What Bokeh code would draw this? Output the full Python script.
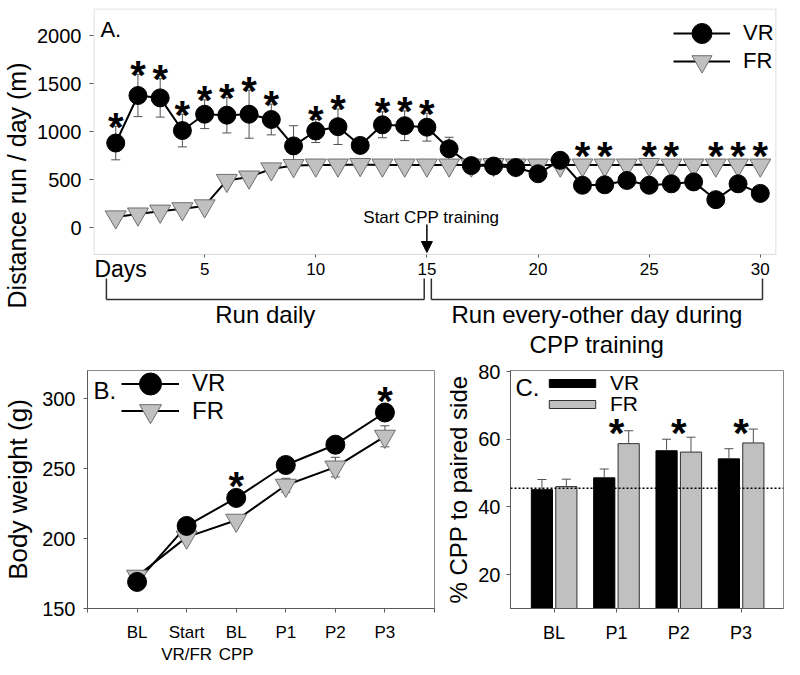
from bokeh.plotting import figure
from bokeh.models import (Range1d, FixedTicker, Label, Arrow, NormalHead, Legend, LegendItem,
                          Span, LinearAxis, BoxAnnotation)
from bokeh.layouts import column, row
from bokeh.embed import file_html
from bokeh.resources import INLINE
from bokeh.core.properties import value

FONT = "Liberation Sans"
GRAY_FILL = "#c0c0c0"
GRAY_EDGE = "#6e6e6e"
FRAME = "#8a8a8a"
AXC = "#5a5a5a"
ERR = "#505050"

# ---------------- Panel A data ----------------
days = list(range(1, 31))
vr_dist = [880, 1375, 1350, 1010, 1180, 1170, 1180, 1125, 850, 1005,
           1050, 855, 1070, 1060, 1045, 820, 645, 640, 625, 560,
           700, 440, 445, 490, 440, 455, 475, 290, 455, 355]
vr_dist_err = [175, 220, 200, 170, 150, 185, 250, 160, 210, 120,
               185, 70, 135, 155, 145, 120, 50, 50, 50, 50,
               50, 50, 50, 50, 50, 50, 50, 50, 50, 50]
fr_dist = [110, 140, 170, 195, 225, 490, 525, 610, 645, 650,
           650, 655, 650, 650, 650, 650, 650, 655, 650, 650,
           650, 650, 650, 650, 655, 650, 650, 650, 650, 650]
fr_dist_err = [30, 30, 30, 30, 30, 40, 40, 40, 40, 40,
               40, 40, 40, 40, 40, 40, 40, 40, 40, 40,
               40, 40, 40, 40, 40, 40, 40, 40, 40, 40]
star_days_vr = [1, 2, 3, 4, 5, 6, 7, 8, 10, 11, 13, 14, 15]
star_days_fr = [22, 23, 25, 26, 28, 29, 30]
day_ticks = [5, 10, 15, 20, 25, 30]
dist_ticks = [0, 500, 1000, 1500, 2000]
cpp_start_day = 15
phase_daily = (0.58, 14.88)
phase_eod = (15.2, 30.1)

# ---------------- Panel B data ----------------
bw_pos = [0, 1, 2, 3, 4, 5]
bw_labels = ["BL", "Start\nVR/FR", "BL\nCPP", "P1", "P2", "P3"]
vr_bw = [169, 209, 229, 252.5, 267, 290]
vr_bw_err = [2, 2, 3, 3, 3, 3]
fr_bw = [173, 201, 213, 238, 251, 273]
fr_bw_err = [2, 2, 3, 5, 7, 7.5]
star_pos_b = [2, 5]
bw_ticks = [150, 200, 250, 300]

# ---------------- Panel C data ----------------
cpp_pos = [0, 1, 2, 3]
cpp_labels = ["BL", "P1", "P2", "P3"]
vr_cpp = [45.1, 48.6, 56.6, 54.2]
vr_cpp_err = [3.0, 2.6, 3.4, 3.0]
fr_cpp = [46.0, 58.7, 56.2, 58.9]
fr_cpp_err = [2.2, 3.8, 4.4, 4.1]
cpp_baseline = 45.5
star_pos_c = [1, 2, 3]
star_level_c = 64.5
cpp_ticks = [20, 40, 60, 80]

STAR_FS = 40
STAR_SHIFT = 9  # px: asterisk ink centre sits above the 'middle' anchor


def style(p, tick_fs, label_fs):
    p.xgrid.visible = False
    p.ygrid.visible = False
    p.outline_line_color = FRAME
    p.outline_line_width = 1
    p.background_fill_color = "white"
    p.border_fill_color = "white"
    for ax in p.axis:
        ax.axis_line_color = AXC
        ax.major_tick_line_color = AXC
        ax.minor_tick_line_color = None
        ax.major_tick_in = 0
        ax.major_tick_out = 4
        ax.major_label_text_font = FONT
        ax.major_label_text_font_size = tick_fs
        ax.major_label_text_color = "black"
        ax.axis_label_text_font = FONT
        ax.axis_label_text_font_style = "normal"
        ax.axis_label_text_font_size = label_fs
        ax.axis_label_text_color = "black"


def single_legend(label, renderers, x, y, gw, gh, standoff, fs):
    return Legend(items=[LegendItem(label=label, renderers=renderers)],
                  location=(x, y), glyph_width=gw, glyph_height=gh, label_width=50,
                  label_standoff=standoff, label_text_font=FONT, label_text_font_size=fs,
                  label_text_color="black", padding=0, margin=0, spacing=0,
                  border_line_color=None, background_fill_alpha=0)


# ======================= Panel A =======================
# frame spans page rows 8..362; value 0 sits at row 227, 500 units per 48 px
upp_a = 500 / 48
A_Y0 = (227 - 362) * upp_a
A_Y1 = (227 - 8) * upp_a
A_X0, A_X1 = 0, 30.73
dpp_a = (A_X1 - A_X0) / 692


def ya(px):
    return (227 - px) * upp_a


pa = figure(width=784, height=362, x_range=Range1d(A_X0, A_X1), y_range=Range1d(A_Y0, A_Y1),
            output_backend="svg", toolbar_location=None, x_axis_location=None,
            min_border_left=84, min_border_right=8, min_border_top=8, min_border_bottom=0)
xa = LinearAxis(fixed_location=ya(254), ticker=FixedTicker(ticks=day_ticks))
pa.add_layout(xa, "below")
style(pa, "20px", "25px")
pa.outline_line_color = None
xa.axis_line_color = None
xa.major_label_text_font_size = "17px"
xa.major_tick_out = 3
xa.major_label_standoff = 5
pa.yaxis.axis_line_color = None
pa.yaxis.ticker = FixedTicker(ticks=dist_ticks)
pa.yaxis.major_label_standoff = 8
pa.yaxis.axis_label = "Distance run / day (m)"
pa.yaxis.axis_label_standoff = 3
# the plot box (upper part of the frame)
pa.add_layout(BoxAnnotation(left=A_X0 + 0.5 * dpp_a, right=A_X1 - 0.5 * dpp_a,
                            bottom=ya(254), top=A_Y1 - 0.5 * upp_a,
                            fill_alpha=0, line_color=FRAME, line_width=1.2))

fr_line = pa.line(days, fr_dist, line_color="black", line_width=2)
vr_line = pa.line(days, vr_dist, line_color="black", line_width=2)
vr_lo = [v - e for v, e in zip(vr_dist, vr_dist_err)]
vr_hi = [v + e for v, e in zip(vr_dist, vr_dist_err)]
fr_lo = [v - e for v, e in zip(fr_dist, fr_dist_err)]
fr_hi = [v + e for v, e in zip(fr_dist, fr_dist_err)]
pa.segment(days, vr_lo, days, vr_hi, line_color=ERR, line_width=1)
pa.scatter(days, vr_hi, marker="dash", size=9, line_color=ERR, line_width=1)
pa.scatter(days, vr_lo, marker="dash", size=9, line_color=ERR, line_width=1)
pa.segment(days, fr_lo, days, fr_hi, line_color=ERR, line_width=1)
fr_pts = pa.scatter(days, fr_dist, marker="inverted_triangle", size=21,
                    fill_color=GRAY_FILL, line_color=GRAY_EDGE, line_width=1)
vr_pts = pa.scatter(days, vr_dist, marker="circle", size=18,
                    fill_color="black", line_color="black")

sy_vr = [vr_hi[d - 1] + (8.5 - STAR_SHIFT) * upp_a for d in star_days_vr]
sy_fr = [fr_dist[d - 1] + (18 - STAR_SHIFT) * upp_a for d in star_days_fr]
pa.text(star_days_vr + star_days_fr, sy_vr + sy_fr, text=["*"] * (len(sy_vr) + len(sy_fr)),
        text_font=value(FONT), text_font_style="bold", text_font_size=f"{STAR_FS}px",
        text_align="center", text_baseline="middle", text_color="black")

FRAME_H_A = 354
pa.add_layout(single_legend("VR", [vr_line, vr_pts], 580, FRAME_H_A - (32.7 - 8) - 25, 57, 50, 13, "22px"))
pa.add_layout(single_legend("FR", [fr_line, fr_pts], 580, FRAME_H_A - (60.7 - 8) - 25, 57, 50, 13, "22px"))

pa.add_layout(Label(x=0.31, y=ya(29), text="A.", text_font=FONT, text_font_size="22px",
                    text_color="black", text_baseline="middle", text_align="left"))
pa.add_layout(Label(x=15.2, y=ya(216.5), text="Start CPP training", text_font=FONT,
                    text_color="black", text_font_size="17px", text_align="center",
                    text_baseline="middle"))
pa.add_layout(Arrow(end=NormalHead(size=11, fill_color="black", line_color="black"),
                    x_start=cpp_start_day, y_start=ya(224), x_end=cpp_start_day, y_end=ya(252),
                    line_color="black", line_width=1.5))
pa.add_layout(Label(x=0.04, y=ya(268.5), text="Days", text_font=FONT, text_font_size="23px",
                    text_color="black", text_align="left", text_baseline="middle"))
bx0 = [phase_daily[0], phase_daily[0], phase_daily[1], phase_eod[0], phase_eod[0], phase_eod[1]]
bx1 = [phase_daily[0], phase_daily[1], phase_daily[1], phase_eod[0], phase_eod[1], phase_eod[1]]
by0 = [ya(278), ya(299), ya(299), ya(278), ya(299), ya(299)]
by1 = [ya(299), ya(299), ya(278), ya(299), ya(299), ya(278)]
pa.segment(bx0, by0, bx1, by1, line_color="#303030", line_width=1.5)
pa.text([sum(phase_daily) / 2, sum(phase_eod) / 2, sum(phase_eod) / 2],
        [ya(314), ya(313.5), ya(343.5)],
        text=["Run daily", "Run every-other day during", "CPP training"],
        text_font=value(FONT), text_font_size="24px", text_align="center",
        text_baseline="middle", text_color="black")

# ======================= Panel B =======================
B_Y0, B_Y1 = 150, 320
FRAME_H_B = 248
upp_b = (B_Y1 - B_Y0) / FRAME_H_B
pb = figure(width=442, height=305, x_range=Range1d(-1, 6), y_range=Range1d(B_Y0, B_Y1),
            output_backend="svg", toolbar_location=None,
            min_border_left=83, min_border_right=8, min_border_top=8, min_border_bottom=49)
style(pb, "20px", "26px")
pb.xaxis.ticker = FixedTicker(ticks=[-1] + bw_pos + [6])
overrides = {-1: "", 6: ""}
for pos, lab in zip(bw_pos, bw_labels):
    overrides[pos] = lab
pb.xaxis.major_label_overrides = overrides
pb.xaxis.major_label_text_font_size = "17px"
pb.xaxis.major_label_standoff = 10
pb.yaxis.ticker = FixedTicker(ticks=bw_ticks)
pb.yaxis.major_label_standoff = 8
pb.yaxis.axis_label = "Body weight (g)"
pb.yaxis.axis_label_standoff = 6

fb_line = pb.line(bw_pos, fr_bw, line_color="black", line_width=2)
vb_line = pb.line(bw_pos, vr_bw, line_color="black", line_width=2)
fb_lo = [v - e for v, e in zip(fr_bw, fr_bw_err)]
fb_hi = [v + e for v, e in zip(fr_bw, fr_bw_err)]
pb.segment(bw_pos, fb_lo, bw_pos, fb_hi, line_color=ERR, line_width=1)
pb.scatter(bw_pos, fb_hi, marker="dash", size=9, line_color=ERR, line_width=1)
pb.scatter(bw_pos, fb_lo, marker="dash", size=9, line_color=ERR, line_width=1)
fb_pts = pb.scatter(bw_pos, fr_bw, marker="inverted_triangle", size=21,
                    fill_color=GRAY_FILL, line_color=GRAY_EDGE, line_width=1)
vb_pts = pb.scatter(bw_pos, vr_bw, marker="circle", size=19, fill_color="black", line_color="black")
sy_b = [vr_bw[i] + (21 - STAR_SHIFT) * upp_b for i in star_pos_b]
pb.text(star_pos_b, sy_b, text=["*"] * len(sy_b), text_font=value(FONT), text_font_style="bold",
        text_font_size=f"{STAR_FS}px", text_align="center", text_baseline="middle")
pb.add_layout(single_legend("VR", [vb_line, vb_pts], 34, FRAME_H_B - (393.3 - 370) - 27.5, 58, 55, 13, "24px"))
pb.add_layout(single_legend("FR", [fb_line, fb_pts], 34, FRAME_H_B - (420.7 - 370) - 27.5, 58, 55, 13, "24px"))
pb.add_layout(Label(x=-0.88, y=B_Y0 + (618 - 391) * upp_b, text="B.", text_font=FONT,
                    text_color="black", text_font_size="24px", text_baseline="middle",
                    text_align="left"))

# ======================= Panel C =======================
C_Y0, C_Y1 = 10, 80.3
FRAME_H_C = 249
upp_c = (C_Y1 - C_Y0) / FRAME_H_C
pc = figure(width=342, height=305, x_range=Range1d(-0.7, 3.68), y_range=Range1d(C_Y0, C_Y1),
            output_backend="svg", toolbar_location=None,
            min_border_left=62, min_border_right=1, min_border_top=8, min_border_bottom=48)
style(pc, "20px", "24px")
pc.xaxis.ticker = FixedTicker(ticks=cpp_pos)
pc.xaxis.major_label_overrides = {p: l for p, l in zip(cpp_pos, cpp_labels)}
pc.xaxis.major_label_text_font_size = "18px"
pc.xaxis.major_label_standoff = 10
pc.yaxis.ticker = FixedTicker(ticks=cpp_ticks)
pc.yaxis.major_label_standoff = 6
pc.yaxis.axis_label = "% CPP to paired side"
pc.yaxis.axis_label_standoff = 3

OFF, BW = 0.196, 0.34
xv = [x - OFF for x in cpp_pos]
xf = [x + OFF for x in cpp_pos]
vbars = pc.vbar(x=xv, top=vr_cpp, bottom=0, width=BW, fill_color="black", line_color="black")
fbars = pc.vbar(x=xf, top=fr_cpp, bottom=0, width=BW, fill_color=GRAY_FILL, line_color="#303030")
vc_hi = [v + e for v, e in zip(vr_cpp, vr_cpp_err)]
fc_hi = [v + e for v, e in zip(fr_cpp, fr_cpp_err)]
pc.segment(xv, vr_cpp, xv, vc_hi, line_color=ERR, line_width=1)
pc.segment(xf, fr_cpp, xf, fc_hi, line_color=ERR, line_width=1)
pc.scatter(xv, vc_hi, marker="dash", size=9, line_color=ERR, line_width=1)
pc.scatter(xf, fc_hi, marker="dash", size=9, line_color=ERR, line_width=1)
pc.add_layout(Span(location=cpp_baseline, dimension="width", line_color="black",
                   line_dash="2 2", line_width=1.5))
sy_c = [star_level_c - STAR_SHIFT * upp_c for _ in star_pos_c]
pc.text(star_pos_c, sy_c, text=["*"] * len(sy_c), text_font=value(FONT), text_font_style="bold",
        text_font_size=f"{STAR_FS}px", text_align="center", text_baseline="middle")
pc.add_layout(single_legend("VR", [vbars], 33, FRAME_H_C - (383.3 - 370) - 22.5, 58, 10, 9, "21px"))
pc.add_layout(single_legend("FR", [fbars], 33, FRAME_H_C - (404.7 - 370) - 22.5, 58, 10, 9, "21px"))
pc.add_layout(Label(x=-0.62, y=C_Y0 + (619 - 388) * upp_c, text="C.", text_font=FONT,
                    text_color="black", text_font_size="24px", text_baseline="middle",
                    text_align="left"))

layout = column(pa, row(pb, pc))
open("out.html", "w").write(file_html(layout, INLINE))
